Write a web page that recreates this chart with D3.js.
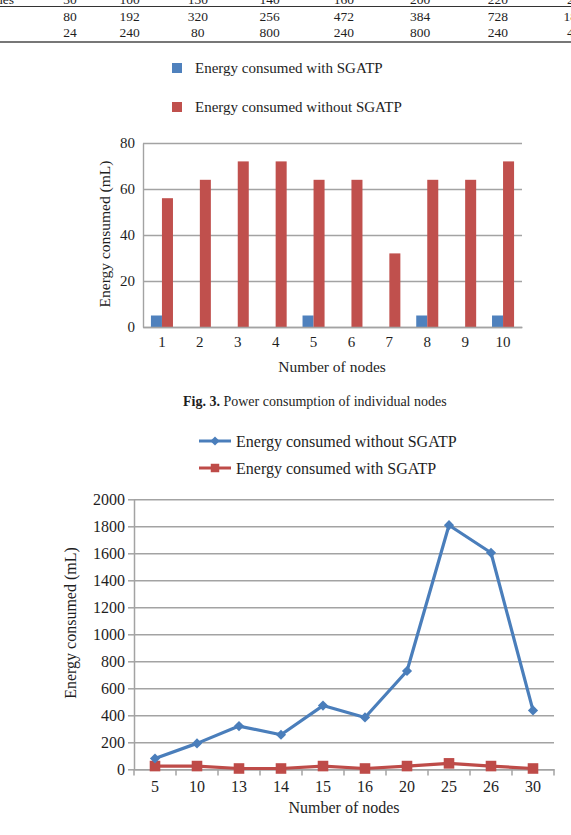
<html lang="en">
<head>
<meta charset="utf-8">
<title>Energy consumed with and without SGATP</title>
<script src="https://d3js.org/d3.v7.min.js"></script>
<style>
body { margin: 0; background: #fff; }
svg text { font-family: "Liberation Serif", "Times New Roman", serif; fill: #1e1e1e; }
</style>
</head>
<body>
<script>

// cropped table at the top of the page
var tableHead = ["30", "100", "130", "140", "160", "200", "220", "250"];
var tableRow1 = ["80", "192", "320", "256", "472", "384", "728", "1808"];
var tableRow2 = ["24", "240", "80", "800", "240", "800", "240", "400"];

// fig. 3 - bar chart
var barNodes = ["1", "2", "3", "4", "5", "6", "7", "8", "9", "10"];
var barWith = [5, 0, 0, 0, 5, 0, 0, 5, 0, 5];
var barWithout = [56, 64, 72, 72, 64, 64, 32, 64, 64, 72];
var barTicks = [0, 20, 40, 60, 80];

// line chart
var lineNodes = ["5", "10", "13", "14", "15", "16", "20", "25", "26", "30"];
var lineWithout = [80, 192, 320, 256, 472, 384, 728, 1808, 1604, 436];
var lineWith = [24, 24, 6, 6, 24, 6, 24, 44, 24, 6];
var lineTicks = [0, 200, 400, 600, 800, 1000, 1200, 1400, 1600, 1800, 2000];

var blue = "#4F81BD", red = "#C0504D";
var lineBlue = "#4A7EBB", lineRed = "#BE4B48";
var grid = "#A3A3A3";

var svg = d3.select("body").append("svg")
	.attr("width", 571)
	.attr("height", 835);

//---------------- table fragment
// columns get a bit wider to the right in the original table
var tx = d3.scalePow().exponent(1.1).domain([0, 7]).range([70, 577]);

svg.append("text").attr("x", 14).attr("y", 4)
	.attr("text-anchor", "end").attr("font-size", "13.5px").text("Nodes");

[tableHead, tableRow1, tableRow2].forEach(function(row, r) {
	svg.append("g").selectAll("text")
		.data(row)
		.enter()
		.append("text")
		.attr("x", function(d, i) { return tx(i); })
		.attr("y", 4 + r * 16 + (r > 0 ? 1 : 0))
		.attr("text-anchor", "middle")
		.attr("font-size", "13.5px")
		.text(function(d) { return d; });
});

svg.append("line").attr("x1", 0).attr("x2", 571).attr("y1", 6.5).attr("y2", 6.5)
	.attr("stroke", "#333").attr("stroke-width", 1);
svg.append("line").attr("x1", 0).attr("x2", 571).attr("y1", 42).attr("y2", 42)
	.attr("stroke", "#777").attr("stroke-width", 2);

//---------------- bar chart
var bx = d3.scaleBand().domain(barNodes).range([143, 522]);
var bx2 = d3.scaleBand().domain(["with", "without"])
	.range([0, bx.bandwidth()])
	.paddingOuter(0.72);
var by = d3.scaleLinear().domain([0, 80]).range([327, 143]);

// legend
var barLegend = [["Energy consumed with SGATP", blue], ["Energy consumed without SGATP", red]];
var bl = svg.append("g").selectAll("g")
	.data(barLegend)
	.enter()
	.append("g")
	.attr("transform", function(d, i) { return "translate(172," + (63 + i * 39) + ")"; });
bl.append("rect").attr("width", 10).attr("height", 10)
	.attr("fill", function(d) { return d[1]; });
bl.append("text").attr("x", 23).attr("y", 10)
	.attr("font-size", "15px")
	.text(function(d) { return d[0]; });

// gridlines
svg.append("g")
	.attr("transform", "translate(143,0)")
	.call(d3.axisLeft(by).tickValues(barTicks).tickSize(-(522 - 143)).tickFormat(""))
	.call(function(g) { g.select(".domain").remove(); })
	.selectAll("line").attr("stroke", grid).attr("stroke-width", 1.4);

// y labels
svg.append("g")
	.attr("transform", "translate(143,0)")
	.call(d3.axisLeft(by).tickValues(barTicks).tickSize(0).tickPadding(8))
	.call(function(g) {
		g.select(".domain").attr("stroke", grid).attr("stroke-width", 1.4);
		g.selectAll("text").attr("font-size", "15px").attr("font-family", null);
	});

// bars
svg.append("g").selectAll("rect")
	.data(barWith)
	.enter()
	.append("rect")
	.attr("x", function(d, i) { return bx(barNodes[i]) + bx2("with"); })
	.attr("y", function(d) { return by(d); })
	.attr("width", bx2.bandwidth())
	.attr("height", function(d) { return by(0) - by(d); })
	.attr("fill", blue);

svg.append("g").selectAll("rect")
	.data(barWithout)
	.enter()
	.append("rect")
	.attr("x", function(d, i) { return bx(barNodes[i]) + bx2("without"); })
	.attr("y", function(d) { return by(d); })
	.attr("width", bx2.bandwidth())
	.attr("height", function(d) { return by(0) - by(d); })
	.attr("fill", red);

// x axis
svg.append("g")
	.attr("transform", "translate(0,327)")
	.call(d3.axisBottom(bx).tickSize(0).tickPadding(9))
	.call(function(g) {
		g.select(".domain").attr("stroke", grid).attr("stroke-width", 1.4);
		g.selectAll("text").attr("font-size", "15px").attr("font-family", null);
	});

svg.append("text")
	.attr("x", 332).attr("y", 372)
	.attr("text-anchor", "middle").attr("font-size", "15.5px")
	.text("Number of nodes");

svg.append("text")
	.attr("transform", "translate(105,234) rotate(-90)")
	.attr("text-anchor", "middle").attr("dy", "0.35em").attr("font-size", "15.5px")
	.text("Energy consumed (mL)");

// caption
var cap = svg.append("text").attr("x", 183).attr("y", 406).attr("font-size", "14px");
cap.append("tspan").attr("font-weight", "bold").text("Fig. 3.");
cap.append("tspan").text(" Power consumption of individual nodes");

//---------------- line chart
var lx = d3.scaleBand().domain(lineNodes).range([134, 554]);
var ly = d3.scaleLinear().domain([0, 2000]).range([769.3, 499.3]);
function cx(d, i) { return lx(lineNodes[i]) + lx.bandwidth() / 2; }

var diamond = d3.symbol().type(d3.symbolSquare).size(52);
var square = d3.symbol().type(d3.symbolSquare).size(112);

// legend
var ll = svg.append("g");
ll.append("line").attr("x1", 199).attr("x2", 231).attr("y1", 441).attr("y2", 441)
	.attr("stroke", lineBlue).attr("stroke-width", 3);
ll.append("path").attr("d", d3.symbol().type(d3.symbolSquare).size(42)).attr("fill", lineBlue)
	.attr("transform", "translate(215,441) rotate(45)");
ll.append("text").attr("x", 236).attr("y", 446.5).attr("font-size", "16px")
	.text("Energy consumed without SGATP");
ll.append("line").attr("x1", 199).attr("x2", 231).attr("y1", 468).attr("y2", 468)
	.attr("stroke", lineRed).attr("stroke-width", 3);
ll.append("path").attr("d", d3.symbol().type(d3.symbolSquare).size(72)).attr("fill", lineRed)
	.attr("transform", "translate(215,468)");
ll.append("text").attr("x", 236).attr("y", 473.5).attr("font-size", "16px")
	.text("Energy consumed with SGATP");

// gridlines
svg.append("g")
	.attr("transform", "translate(134,0)")
	.call(d3.axisLeft(ly).tickValues(lineTicks).tickSize(-(554 - 134)).tickFormat(""))
	.call(function(g) { g.select(".domain").remove(); })
	.selectAll("line").attr("stroke", grid).attr("stroke-width", 1.5);

// y axis
svg.append("g")
	.attr("transform", "translate(134,0)")
	.call(d3.axisLeft(ly).tickValues(lineTicks).tickFormat(d3.format("d"))
		.tickSize(6).tickPadding(3).tickSizeOuter(0))
	.call(function(g) {
		g.select(".domain").attr("stroke", grid).attr("stroke-width", 1.5);
		g.selectAll("line").attr("stroke", grid).attr("stroke-width", 1.5);
		g.selectAll("text").attr("font-size", "16px").attr("font-family", null);
	});

// x axis
svg.append("g")
	.attr("transform", "translate(0,769.3)")
	.call(d3.axisBottom(lx).tickSize(0).tickPadding(11))
	.call(function(g) {
		g.select(".domain").attr("stroke", grid).attr("stroke-width", 1.5);
		g.selectAll("text").attr("font-size", "16px").attr("font-family", null);
	});

// x tick marks on the band edges
svg.append("g").selectAll("line")
	.data(lineNodes.concat(["end"]))
	.enter()
	.append("line")
	.attr("x1", function(d) { return d == "end" ? lx.range()[1] : lx(d); })
	.attr("x2", function(d) { return d == "end" ? lx.range()[1] : lx(d); })
	.attr("y1", 769.3).attr("y2", 775.5)
	.attr("stroke", grid).attr("stroke-width", 1.5);

svg.append("text")
	.attr("x", 344).attr("y", 813)
	.attr("text-anchor", "middle").attr("font-size", "16px")
	.text("Number of nodes");

svg.append("text")
	.attr("transform", "translate(70,623) rotate(-90)")
	.attr("text-anchor", "middle").attr("dy", "0.35em").attr("font-size", "16px")
	.text("Energy consumed (mL)");

// lines
var line = d3.line().x(cx).y(function(d) { return ly(d); });

svg.append("path").datum(lineWith)
	.attr("d", line).attr("fill", "none")
	.attr("stroke", lineRed).attr("stroke-width", 3.2).attr("stroke-linejoin", "round");
svg.append("g").selectAll("path")
	.data(lineWith)
	.enter()
	.append("path")
	.attr("d", square)
	.attr("fill", lineRed)
	.attr("transform", function(d, i) { return "translate(" + cx(d, i) + "," + ly(d) + ")"; });

svg.append("path").datum(lineWithout)
	.attr("d", line).attr("fill", "none")
	.attr("stroke", lineBlue).attr("stroke-width", 3.2).attr("stroke-linejoin", "round");
svg.append("g").selectAll("path")
	.data(lineWithout)
	.enter()
	.append("path")
	.attr("d", diamond)
	.attr("fill", lineBlue)
	.attr("transform", function(d, i) { return "translate(" + cx(d, i) + "," + ly(d) + ") rotate(45)"; });

</script>
</body>
</html>
